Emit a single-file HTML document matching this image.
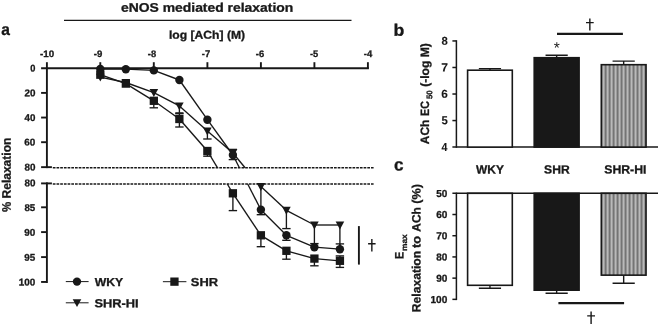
<!DOCTYPE html><html><head><meta charset="utf-8"><title>fig</title><style>html,body{margin:0;padding:0;background:#fff}svg{display:block;will-change:transform}text{font-family:"Liberation Sans",sans-serif;font-weight:bold;fill:#181818;stroke:#181818;stroke-width:0.3px}</style></head><body>
<svg width="658" height="324" viewBox="0 0 658 324">
<rect width="658" height="324" fill="#fff"/>
<text transform="translate(120.96,11.73) rotate(0.03) scale(1.1154,1)" font-size="12.48">eNOS mediated relaxation</text>
<text transform="translate(168.97,38.73) rotate(0.03) scale(1.0601,1)" font-size="11.46">log [ACh] (M)</text>
<text transform="translate(1.35,35.02) rotate(0.03) scale(0.9461,1)" font-size="16.47">a</text>
<text transform="translate(393.53,35.78) rotate(0.03) scale(1.0682,1)" font-size="16.59">b</text>
<text transform="translate(394.08,170.61) rotate(0.03) scale(0.9874,1)" font-size="17.38">c</text>
<text transform="translate(40.03,56.89) rotate(0.03) scale(1.0473,1)" font-size="9.38">-10</text>
<text transform="translate(93.74,56.89) rotate(0.03) scale(1.0213,1)" font-size="9.38">-9</text>
<text transform="translate(147.85,56.89) rotate(0.03) scale(0.9959,1)" font-size="9.38">-8</text>
<text transform="translate(201.84,57.08) rotate(0.03) scale(0.9649,1)" font-size="9.79">-7</text>
<text transform="translate(255.74,56.89) rotate(0.03) scale(1.0082,1)" font-size="9.38">-6</text>
<text transform="translate(309.95,56.88) rotate(0.03) scale(0.9818,1)" font-size="9.51">-5</text>
<text transform="translate(363.84,56.98) rotate(0.03) scale(0.9818,1)" font-size="9.65">-4</text>
<text transform="translate(30.25,71.58) rotate(0.03) scale(0.9463,1)" font-size="9.80">0</text>
<text transform="translate(24.42,96.23) rotate(0.03) scale(1.0064,1)" font-size="9.80">20</text>
<text transform="translate(24.52,120.88) rotate(0.03) scale(0.9968,1)" font-size="9.80">40</text>
<text transform="translate(24.32,145.53) rotate(0.03) scale(1.0162,1)" font-size="9.80">60</text>
<text transform="translate(24.42,170.43) rotate(0.03) scale(1.0064,1)" font-size="9.80">80</text>
<text transform="translate(24.42,186.28) rotate(0.03) scale(1.0064,1)" font-size="9.80">80</text>
<text transform="translate(24.43,210.88) rotate(0.03) scale(0.9968,1)" font-size="9.80">85</text>
<text transform="translate(24.32,235.68) rotate(0.03) scale(1.0162,1)" font-size="9.80">90</text>
<text transform="translate(24.33,260.68) rotate(0.03) scale(1.0064,1)" font-size="9.80">95</text>
<text transform="translate(18.83,285.53) rotate(0.03) scale(1.0110,1)" font-size="9.80">100</text>
<text transform="translate(94.77,285.98) rotate(0.03) scale(1.0586,1)" font-size="11.54">WKY</text>
<text transform="translate(190.83,285.88) rotate(0.03) scale(1.1176,1)" font-size="11.54">SHR</text>
<text transform="translate(94.38,307.18) rotate(0.03) scale(1.0949,1)" font-size="11.75">SHR-HI</text>
<text transform="translate(476.02,173.38) rotate(0.03) scale(1.0088,1)" font-size="11.83">WKY</text>
<text transform="translate(544.06,173.38) rotate(0.03) scale(1.0246,1)" font-size="11.83">SHR</text>
<text transform="translate(604.25,173.38) rotate(0.03) scale(1.0364,1)" font-size="11.83">SHR-HI</text>
<text transform="translate(553.71,52.98) rotate(0.03) scale(1.0000,1)" font-size="15.60" style="font-weight:normal;stroke:none">*</text>
<text transform="translate(441.51,151.03) rotate(0.03) scale(0.9142,1)" font-size="11.68" style="stroke-width:0.1px">4</text>
<text transform="translate(441.38,124.37) rotate(0.03) scale(0.9831,1)" font-size="11.51" style="stroke-width:0.1px">5</text>
<text transform="translate(441.25,97.84) rotate(0.03) scale(1.0387,1)" font-size="11.35" style="stroke-width:0.1px">6</text>
<text transform="translate(441.24,71.53) rotate(0.03) scale(1.0160,1)" font-size="11.85" style="stroke-width:0.1px">7</text>
<text transform="translate(441.38,44.76) rotate(0.03) scale(0.9972,1)" font-size="11.35" style="stroke-width:0.1px">8</text>
<text transform="translate(436.32,196.88) rotate(0.03) scale(0.9878,1)" font-size="10.08">50</text>
<text transform="translate(436.22,218.09) rotate(0.03) scale(0.9974,1)" font-size="10.08">60</text>
<text transform="translate(436.22,239.30) rotate(0.03) scale(0.9974,1)" font-size="10.08">70</text>
<text transform="translate(436.32,260.51) rotate(0.03) scale(0.9878,1)" font-size="10.08">80</text>
<text transform="translate(436.22,281.72) rotate(0.03) scale(0.9974,1)" font-size="10.08">90</text>
<text transform="translate(430.51,302.93) rotate(0.03) scale(1.0017,1)" font-size="10.08">100</text>
<text transform="translate(10.63,212.07) rotate(-89.97) scale(0.9236,1)" font-size="12.41">%</text>
<text transform="translate(10.63,198.52) rotate(-89.97) scale(0.9722,1)" font-size="12.41">Relaxation</text>
<text transform="translate(429.08,144.24) rotate(-89.97) scale(0.9858,1)" font-size="12.12">ACh</text>
<text transform="translate(429.08,115.93) rotate(-89.97) scale(0.8804,1)" font-size="12.12">EC</text>
<text transform="translate(432.20,99.12) rotate(-89.97) scale(0.9588,1)" font-size="8.18">50</text>
<text transform="translate(429.08,86.78) rotate(-89.97) scale(0.9961,1)" font-size="12.12">(-log M)</text>
<text transform="translate(420.38,312.23) rotate(-89.97) scale(1.0038,1)" font-size="12.12">Relaxation</text>
<text transform="translate(420.38,248.06) rotate(-89.97) scale(1.0489,1)" font-size="12.12">to</text>
<text transform="translate(420.38,231.64) rotate(-89.97) scale(0.9837,1)" font-size="12.12">ACh</text>
<text transform="translate(420.38,203.71) rotate(-89.97) scale(1.0436,1)" font-size="12.12">(%)</text>
<text transform="translate(403.38,258.94) rotate(-89.97) scale(0.8826,1)" font-size="12.26">E</text>
<text transform="translate(406.90,251.07) rotate(-89.97) scale(1.0617,1)" font-size="7.93">max</text>
<line x1="64" y1="20.3" x2="351.5" y2="20.3" stroke="#181818" stroke-width="1.3"/>
<g stroke="#181818" stroke-width="1.9" fill="none">
<line x1="41.1" y1="68.25" x2="368.9" y2="68.25"/>
<line x1="46.9" y1="62.2" x2="46.9" y2="168.1"/>
<line x1="46.9" y1="182.4" x2="46.9" y2="283.0"/>
<line x1="100.3" y1="62.2" x2="100.3" y2="68.4"/>
<line x1="153.8" y1="62.2" x2="153.8" y2="68.4"/>
<line x1="207.4" y1="62.2" x2="207.4" y2="68.4"/>
<line x1="260.9" y1="62.2" x2="260.9" y2="68.4"/>
<line x1="314.4" y1="62.2" x2="314.4" y2="68.4"/>
<line x1="367.9" y1="62.2" x2="367.9" y2="68.4"/>
<line x1="41.1" y1="92.90" x2="46.9" y2="92.90"/>
<line x1="41.1" y1="117.55" x2="46.9" y2="117.55"/>
<line x1="41.1" y1="142.20" x2="46.9" y2="142.20"/>
<line x1="41.1" y1="167.15" x2="51.9" y2="167.15"/>
<line x1="41.1" y1="183.4" x2="51.9" y2="183.4"/>
<line x1="41.1" y1="207.30" x2="46.9" y2="207.30"/>
<line x1="41.1" y1="232.10" x2="46.9" y2="232.10"/>
<line x1="41.1" y1="257.10" x2="46.9" y2="257.10"/>
<line x1="41.1" y1="281.95" x2="46.9" y2="281.95"/>
</g>
<g stroke="#181818" stroke-width="1.4" stroke-dasharray="2.7,1.0">
<line x1="52.8" y1="167.7" x2="373.6" y2="167.7"/>
<line x1="52.8" y1="184.0" x2="373.6" y2="184.0"/>
</g>
<g stroke="#181818" stroke-width="1.35" fill="none">
<line x1="100.3" y1="69.0" x2="125.8" y2="69.2"/>
<line x1="125.8" y1="69.2" x2="153.8" y2="70.4"/>
<line x1="153.8" y1="70.4" x2="179.4" y2="80.0"/>
<line x1="179.4" y1="80.0" x2="207.4" y2="119.7"/>
<line x1="207.4" y1="119.7" x2="232.9" y2="155.0"/>
<line x1="232.9" y1="155.0" x2="239.4" y2="167.7"/>
<line x1="247.7" y1="184.0" x2="260.9" y2="209.8"/>
<line x1="260.9" y1="209.8" x2="286.4" y2="235.3"/>
<line x1="286.4" y1="235.3" x2="314.4" y2="247.2"/>
<line x1="314.4" y1="247.2" x2="339.9" y2="249.2"/>
<line x1="100.3" y1="74.7" x2="125.8" y2="83.6"/>
<line x1="125.8" y1="83.6" x2="153.8" y2="100.8"/>
<line x1="153.8" y1="100.8" x2="179.4" y2="119.0"/>
<line x1="179.4" y1="119.0" x2="207.4" y2="151.0"/>
<line x1="207.4" y1="151.0" x2="217.4" y2="167.7"/>
<line x1="227.3" y1="184.0" x2="232.9" y2="193.3"/>
<line x1="232.9" y1="193.3" x2="260.9" y2="235.3"/>
<line x1="260.9" y1="235.3" x2="286.4" y2="250.8"/>
<line x1="286.4" y1="250.8" x2="314.4" y2="258.6"/>
<line x1="314.4" y1="258.6" x2="339.9" y2="260.8"/>
<line x1="100.3" y1="77.2" x2="125.8" y2="82.5"/>
<line x1="125.8" y1="82.5" x2="153.8" y2="92.6"/>
<line x1="153.8" y1="92.6" x2="179.4" y2="105.9"/>
<line x1="179.4" y1="105.9" x2="207.4" y2="131.0"/>
<line x1="207.4" y1="131.0" x2="232.9" y2="153.0"/>
<line x1="232.9" y1="153.0" x2="245.1" y2="167.7"/>
<line x1="258.7" y1="184.0" x2="260.9" y2="186.6"/>
<line x1="260.9" y1="186.6" x2="286.4" y2="210.3"/>
<line x1="286.4" y1="210.3" x2="314.4" y2="225.0"/>
<line x1="314.4" y1="225.0" x2="339.9" y2="225.0"/>
<line x1="153.8" y1="100.8" x2="153.8" y2="107.8"/>
<line x1="149.6" y1="107.8" x2="158.0" y2="107.8"/>
<line x1="179.4" y1="119.0" x2="179.4" y2="127.0"/>
<line x1="175.2" y1="127.0" x2="183.6" y2="127.0"/>
<line x1="179.4" y1="119.0" x2="179.4" y2="113.6"/>
<line x1="175.2" y1="113.6" x2="183.6" y2="113.6"/>
<line x1="179.4" y1="105.9" x2="179.4" y2="112.9"/>
<line x1="175.3" y1="112.9" x2="183.5" y2="112.9"/>
<line x1="207.4" y1="131.0" x2="207.4" y2="139.0"/>
<line x1="203.2" y1="139.0" x2="211.6" y2="139.0"/>
<line x1="207.4" y1="151.0" x2="207.4" y2="156.2"/>
<line x1="203.2" y1="156.2" x2="211.6" y2="156.2"/>
<line x1="232.9" y1="153.0" x2="232.9" y2="149.4"/>
<line x1="228.7" y1="149.4" x2="237.1" y2="149.4"/>
<line x1="232.9" y1="155.0" x2="232.9" y2="159.6"/>
<line x1="228.7" y1="159.6" x2="237.1" y2="159.6"/>
<line x1="232.9" y1="193.3" x2="232.9" y2="210.6"/>
<line x1="228.7" y1="210.6" x2="237.1" y2="210.6"/>
<line x1="260.9" y1="209.8" x2="260.9" y2="214.7"/>
<line x1="256.7" y1="214.7" x2="265.1" y2="214.7"/>
<line x1="260.9" y1="186.6" x2="260.9" y2="209.0"/>
<line x1="260.9" y1="235.3" x2="260.9" y2="246.7"/>
<line x1="256.7" y1="246.7" x2="265.1" y2="246.7"/>
<line x1="286.4" y1="210.3" x2="286.4" y2="228.6"/>
<line x1="282.2" y1="228.6" x2="290.6" y2="228.6"/>
<line x1="286.4" y1="235.3" x2="286.4" y2="240.3"/>
<line x1="282.2" y1="240.3" x2="290.6" y2="240.3"/>
<line x1="286.4" y1="250.8" x2="286.4" y2="259.2"/>
<line x1="282.2" y1="259.2" x2="290.6" y2="259.2"/>
<line x1="314.4" y1="225.0" x2="314.4" y2="247.0"/>
<line x1="314.4" y1="258.6" x2="314.4" y2="265.8"/>
<line x1="310.2" y1="265.8" x2="318.6" y2="265.8"/>
<line x1="314.4" y1="247.2" x2="314.4" y2="243.6"/>
<line x1="310.2" y1="243.6" x2="318.6" y2="243.6"/>
<line x1="339.9" y1="225.0" x2="339.9" y2="249.0"/>
<line x1="339.9" y1="249.2" x2="339.9" y2="243.9"/>
<line x1="335.7" y1="243.9" x2="344.1" y2="243.9"/>
<line x1="339.9" y1="260.8" x2="339.9" y2="267.4"/>
<line x1="335.7" y1="267.4" x2="344.1" y2="267.4"/>
<line x1="339.9" y1="260.8" x2="339.9" y2="255.9"/>
<line x1="335.7" y1="255.9" x2="344.1" y2="255.9"/>
</g>
<path d="M96.02 73.70 h8.6 l-4.3 7.9z" fill="#181818"/>
<circle cx="100.3" cy="69.0" r="4.2" fill="#181818"/>
<rect x="96.17" y="70.55" width="8.3" height="8.3" fill="#181818"/>
<path d="M121.55 79.00 h8.6 l-4.3 7.9z" fill="#181818"/>
<circle cx="125.8" cy="69.2" r="4.2" fill="#181818"/>
<rect x="121.70" y="79.45" width="8.3" height="8.3" fill="#181818"/>
<path d="M149.54 89.10 h8.6 l-4.3 7.9z" fill="#181818"/>
<circle cx="153.8" cy="70.4" r="4.2" fill="#181818"/>
<rect x="149.69" y="96.65" width="8.3" height="8.3" fill="#181818"/>
<path d="M175.07 102.40 h8.6 l-4.3 7.9z" fill="#181818"/>
<circle cx="179.4" cy="80.0" r="4.2" fill="#181818"/>
<rect x="175.22" y="114.85" width="8.3" height="8.3" fill="#181818"/>
<path d="M203.06 127.50 h8.6 l-4.3 7.9z" fill="#181818"/>
<circle cx="207.4" cy="119.7" r="4.2" fill="#181818"/>
<rect x="203.21" y="146.85" width="8.3" height="8.3" fill="#181818"/>
<path d="M228.59 149.50 h8.6 l-4.3 7.9z" fill="#181818"/>
<circle cx="232.9" cy="155.0" r="4.2" fill="#181818"/>
<rect x="228.74" y="189.15" width="8.3" height="8.3" fill="#181818"/>
<path d="M256.58 183.10 h8.6 l-4.3 7.9z" fill="#181818"/>
<circle cx="260.9" cy="209.8" r="4.2" fill="#181818"/>
<rect x="256.73" y="231.15" width="8.3" height="8.3" fill="#181818"/>
<path d="M282.11 206.80 h8.6 l-4.3 7.9z" fill="#181818"/>
<circle cx="286.4" cy="235.3" r="4.2" fill="#181818"/>
<rect x="282.26" y="246.65" width="8.3" height="8.3" fill="#181818"/>
<path d="M310.10 221.50 h8.6 l-4.3 7.9z" fill="#181818"/>
<circle cx="314.4" cy="247.2" r="4.2" fill="#181818"/>
<rect x="310.25" y="254.45" width="8.3" height="8.3" fill="#181818"/>
<path d="M335.63 221.50 h8.6 l-4.3 7.9z" fill="#181818"/>
<circle cx="339.9" cy="249.2" r="4.2" fill="#181818"/>
<rect x="335.78" y="256.65" width="8.3" height="8.3" fill="#181818"/>
<line x1="358.9" y1="226.1" x2="358.9" y2="264.6" stroke="#181818" stroke-width="1.9"/>
<path d="M371.85 239.10 V251.50 M368.10 243.70 H375.60" stroke="#181818" stroke-width="1.4" fill="none"/>
<g stroke="#181818" stroke-width="1.0">
<line x1="65.8" y1="281.6" x2="88.6" y2="281.6"/><line x1="162.9" y1="281.7" x2="186.4" y2="281.7"/><line x1="65.8" y1="302.8" x2="88.6" y2="302.8"/>
</g>
<circle cx="77.0" cy="281.6" r="4.2" fill="#181818"/>
<rect x="170.30" y="277.50" width="8.3" height="8.3" fill="#181818"/>
<path d="M72.70 299.20 h8.6 l-4.3 7.9z" fill="#181818"/>
<g stroke="#181818" stroke-width="1.5" fill="none">
<line x1="456.4" y1="40.2" x2="456.4" y2="147.8"/>
<line x1="452.4" y1="147.1" x2="658" y2="147.1"/>
<line x1="452.4" y1="120.56" x2="456.4" y2="120.56"/>
<line x1="452.4" y1="94.02" x2="456.4" y2="94.02"/>
<line x1="452.4" y1="67.48" x2="456.4" y2="67.48"/>
<line x1="452.4" y1="40.94" x2="456.4" y2="40.94"/>
<line x1="456.4" y1="192.6" x2="456.4" y2="300.1"/>
<line x1="452.4" y1="193.3" x2="658" y2="193.3"/>
<line x1="452.4" y1="214.51" x2="456.4" y2="214.51"/>
<line x1="452.4" y1="235.72" x2="456.4" y2="235.72"/>
<line x1="452.4" y1="256.93" x2="456.4" y2="256.93"/>
<line x1="452.4" y1="278.14" x2="456.4" y2="278.14"/>
<line x1="452.4" y1="299.35" x2="456.4" y2="299.35"/>
</g>
<defs><pattern id="st" width="3.99" height="4" patternUnits="userSpaceOnUse" x="600.6"><rect width="3.99" height="4" fill="#bcbcbc"/><rect x="0" width="2.05" height="4" fill="#747474"/></pattern></defs>
<rect x="467.60" y="70.20" width="44.70" height="76.90" fill="#fff" stroke="#181818" stroke-width="1.6"/>
<path d="M489.95 70.20 V68.60 M478.85 68.60 H501.05" stroke="#181818" stroke-width="1.4" fill="none"/>
<rect x="534.20" y="57.70" width="44.90" height="89.40" fill="#181818" stroke="#181818" stroke-width="1.6"/>
<path d="M556.65 57.70 V55.20 M545.55 55.20 H567.75" stroke="#181818" stroke-width="1.4" fill="none"/>
<rect x="601.30" y="64.70" width="44.75" height="82.40" fill="url(#st)" stroke="#181818" stroke-width="1.6"/>
<path d="M623.67 64.70 V61.10 M612.57 61.10 H634.77" stroke="#181818" stroke-width="1.4" fill="none"/>
<line x1="557" y1="33.9" x2="622.9" y2="33.9" stroke="#181818" stroke-width="2.1"/>
<path d="M589.85 18.50 V30.40 M586.00 22.65 H593.70" stroke="#181818" stroke-width="1.4" fill="none"/>
<rect x="467.60" y="193.30" width="44.70" height="92.00" fill="#fff" stroke="#181818" stroke-width="1.6"/>
<path d="M489.95 285.30 V288.20 M478.85 288.20 H501.05" stroke="#181818" stroke-width="1.4" fill="none"/>
<rect x="534.20" y="193.30" width="44.90" height="96.90" fill="#181818" stroke="#181818" stroke-width="1.6"/>
<path d="M556.65 290.20 V293.30 M545.55 293.30 H567.75" stroke="#181818" stroke-width="1.4" fill="none"/>
<rect x="601.30" y="193.30" width="44.75" height="81.85" fill="url(#st)" stroke="#181818" stroke-width="1.6"/>
<path d="M623.67 275.15 V283.25 M612.57 283.25 H634.77" stroke="#181818" stroke-width="1.4" fill="none"/>
<line x1="558.4" y1="303.1" x2="624.1" y2="303.1" stroke="#181818" stroke-width="2.1"/>
<path d="M591.10 311.40 V326.00 M587.20 315.85 H595.00" stroke="#181818" stroke-width="1.4" fill="none"/>
</svg></body></html>
